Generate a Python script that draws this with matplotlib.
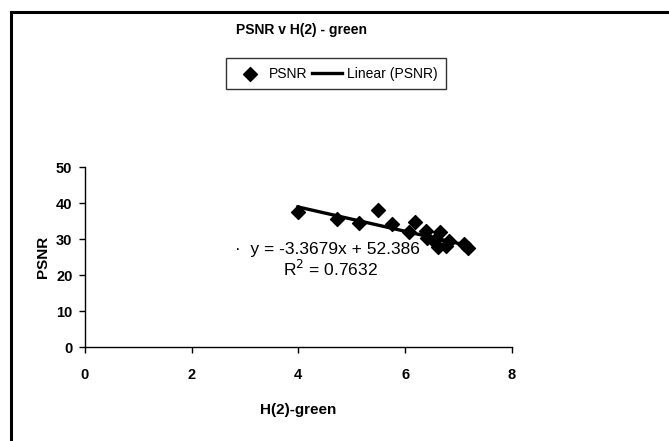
import matplotlib.pyplot as plt
import numpy as np
from matplotlib.lines import Line2D

plt.rcParams['font.family'] = ['Liberation Sans', 'DejaVu Sans']

# values
h2_green = [3.99, 4.72, 5.13, 5.49, 5.75, 6.08, 6.18, 6.39, 6.41, 6.54,
            6.61, 6.66, 6.76, 6.83, 7.10, 7.17]
psnr = [37.6, 35.5, 34.6, 38.0, 34.1, 31.9, 34.7, 32.3, 30.2, 29.4,
        27.8, 31.9, 28.2, 29.4, 28.6, 27.4]
slope, intercept, r2 = -3.3679, 52.386, 0.7632
xticks = [0, 2, 4, 6, 8]
yticks = [0, 10, 20, 30, 40, 50]

fig = plt.figure(figsize=(6.69, 4.41), dpi=100)
ax = fig.add_axes([0.127, 0.213, 0.638, 0.408])

ax.scatter(h2_green, psnr, marker='D', s=50, color='black', zorder=3,
           label='PSNR')
xfit = np.array([min(h2_green), max(h2_green)])
ax.plot(xfit, slope * xfit + intercept, color='black', lw=2.4,
        label='Linear (PSNR)')

ax.set_xlim(0, 8)
ax.set_ylim(0, 50)
ax.set_xticks(xticks)
ax.set_yticks(yticks)
for s in ['top', 'right']:
    ax.spines[s].set_visible(False)
for s in ['left', 'bottom']:
    ax.spines[s].set_linewidth(1.0)
ax.tick_params(direction='out', length=4, width=1, labelsize=10.5)
ax.tick_params(axis='x', pad=11)
ax.tick_params(axis='y', pad=5)
for lab in ax.get_xticklabels() + ax.get_yticklabels():
    lab.set_fontweight('bold')

ax.set_xlabel('H(2)-green', fontsize=11, fontweight='bold', labelpad=15)
ax.set_ylabel('PSNR', fontsize=11, fontweight='bold', labelpad=4)

ax.text(4.55, 27.2, '\u00b7  y = -3.3679x + 52.386', fontsize=12.5,
        ha='center', va='center')
ax.text(4.6, 21.6, 'R$^2$ = 0.7632', fontsize=12.5, ha='center',
        va='center')

fig.text(0.45, 0.932, 'PSNR v H(2) - green', fontsize=10,
         fontweight='bold', ha='center', va='center')

leg = ax.legend(loc='center', bbox_to_anchor=(0.502, 0.833),
                bbox_transform=fig.transFigure, ncol=2, frameon=True,
                fancybox=False, edgecolor='black', fontsize=10,
                handlelength=2.2, columnspacing=0.3, handletextpad=0.3,
                borderpad=0.6, borderaxespad=0)
leg.get_frame().set_linewidth(1.0)

# chart area border (left and top visible)
fig.add_artist(Line2D([0.016, 0.016], [0.0, 0.972], color='black', lw=2.2,
                      transform=fig.transFigure))
fig.add_artist(Line2D([0.016, 1.0], [0.972, 0.972], color='black', lw=2.2,
                      transform=fig.transFigure))

fig.savefig('out.png', dpi=100)
